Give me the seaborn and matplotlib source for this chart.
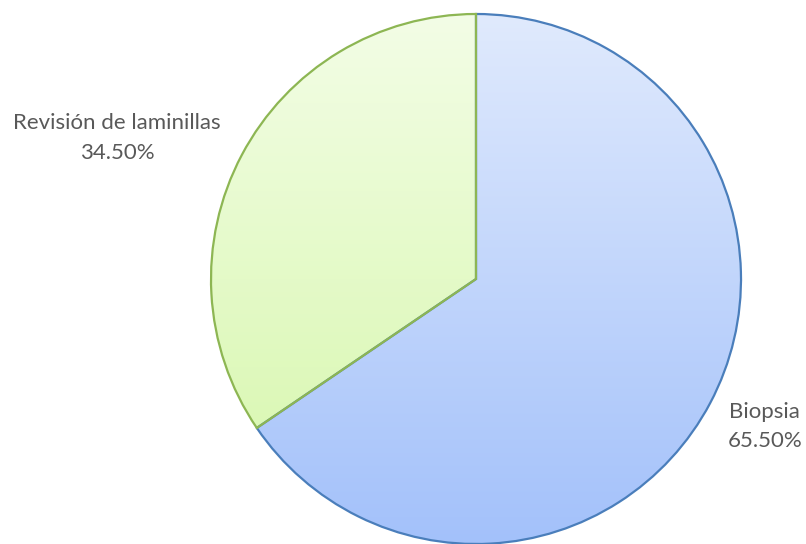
import numpy as np
import matplotlib
matplotlib.use("Agg")
import matplotlib.pyplot as plt
from matplotlib.colors import LinearSegmentedColormap
import seaborn as sns

categories = ["Biopsia", "Revisión de laminillas"]
values = [65.50, 34.50]
pct_labels = ["65.50%", "34.50%"]

edge_colors = ["#4a7ebb", "#8db653"]
grad_top = ["#e0eafd", "#f3fde6"]
grad_bottom = ["#a3c1fa", "#d5f7a9"]

sns.set_theme(style="white")
plt.rcParams["font.family"] = ["Lato", "DejaVu Sans"]

fig = plt.figure(figsize=(8.06, 5.44), dpi=100)
ax = fig.add_axes([211 / 806, 0.0, 530 / 806, 530 / 544])

wedges, _ = ax.pie(values, startangle=90, counterclock=False, radius=1.0,
                   wedgeprops=dict(linewidth=1.6))
ax.set_xlim(-1, 1)
ax.set_ylim(-1, 1)
ax.axis("off")

grad = np.linspace(0, 1, 256).reshape(-1, 1)
for i, w in enumerate(wedges):
    cmap = LinearSegmentedColormap.from_list(f"g{i}", [grad_top[i], grad_bottom[i]])
    im = ax.imshow(grad, cmap=cmap, extent=[-1, 1, -1, 1], origin="upper",
                   aspect="auto", zorder=1)
    im.set_clip_path(w)
    w.set_facecolor("none")
    w.set_edgecolor(edge_colors[i])
    w.set_zorder(2 + i)

label_kw = dict(ha="center", va="center", fontsize=16, color="#595959",
                linespacing=1.6, clip_on=False)
ax.text(1.09, -0.557, f"{categories[0]}\n{pct_labels[0]}", **label_kw)
ax.text(-1.355, 0.533, f"{categories[1]}\n{pct_labels[1]}", **label_kw)

fig.savefig("out.png", dpi=100, facecolor="white")
